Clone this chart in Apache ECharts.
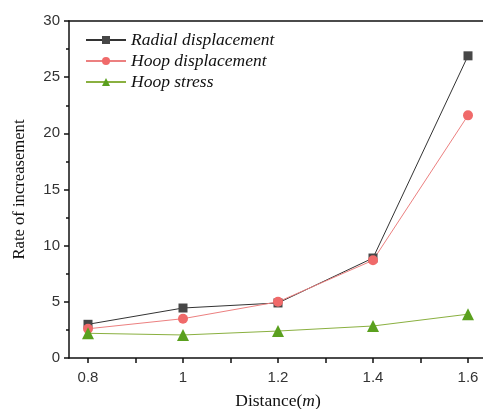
<!DOCTYPE html>
<html><head><meta charset="utf-8">
<script src="https://cdn.jsdelivr.net/npm/echarts@6/dist/echarts.min.js"></script>
<style>html,body{margin:0;padding:0;background:#fff}#c{width:483px;height:409px}</style>
</head><body><div id="c"></div>
<script>
var distances = [0.8, 1.0, 1.2, 1.4, 1.6];
var radialDisp = [3.0, 4.45, 4.9, 8.9, 26.9];
var hoopDisp = [2.6, 3.5, 5.0, 8.7, 21.6];
var hoopStress = [2.2, 2.05, 2.4, 2.85, 3.9];
var xTicks = [0.8, 1.0, 1.2, 1.4, 1.6];
var xMinorTicks = [0.9, 1.1, 1.3, 1.5];
var yTicks = [0, 5, 10, 15, 20, 25, 30];

function pairs(v){ return distances.map(function(d,i){ return [d, v[i]]; }); }
var chart = echarts.init(document.getElementById('c'), null, {renderer:'canvas'});
var serif = '"Liberation Serif", "Times New Roman", serif';
var sans = '"Liberation Sans", Arial, sans-serif';
chart.setOption({
  animation:false,
  backgroundColor:'#fff',
  grid:{left:69, right:-4, top:21, bottom:51, containLabel:false, outerBoundsMode:'none'},
  legend:{
    left:80, top:26, orient:'vertical', itemGap:3, itemWidth:40, itemHeight:10,
    textStyle:{fontFamily:serif, fontStyle:'italic', fontSize:17.5, color:'#111'},
    data:['Radial displacement','Hoop displacement','Hoop stress']
  },
  xAxis:[{
    type:'value', min:0.76, max:1.64, position:'bottom',
    axisLine:{show:true, lineStyle:{color:'#111', width:1.5}},
    axisTick:{show:true, inside:false, length:5, customValues:xTicks.concat(xMinorTicks), lineStyle:{color:'#111', width:1.5}},
    axisLabel:{customValues:xTicks, fontFamily:sans, fontSize:15, color:'#333', margin:12,
      formatter:function(v){ return (Math.round(v*10)/10).toString(); }},
    splitLine:{show:false},
    name:'{a|Distance(}{b|m}{a|)}', nameLocation:'middle', nameGap:34,
    nameTextStyle:{rich:{a:{fontFamily:serif, fontSize:17.5, color:'#111'}, b:{fontFamily:serif, fontSize:17.5, fontStyle:'italic', color:'#111'}}}
  },{
    type:'value', min:0.76, max:1.64, position:'top',
    axisLine:{show:true, lineStyle:{color:'#111', width:1.5}},
    axisTick:{show:false}, axisLabel:{show:false}, splitLine:{show:false}
  }],
  yAxis:{
    type:'value', min:0, max:30, interval:5,
    axisLine:{show:true, lineStyle:{color:'#111', width:1.5}},
    axisTick:{show:true, inside:false, length:5, lineStyle:{color:'#111', width:1.5}},
    minorTick:{show:true, splitNumber:2, length:3, lineStyle:{color:'#111', width:1.5}},
    axisLabel:{fontFamily:sans, fontSize:15, color:'#333', margin:9},
    splitLine:{show:false},
    name:'Rate of increasement', nameLocation:'middle', nameGap:41,
    nameTextStyle:{fontFamily:serif, fontSize:16.6, color:'#111'}
  },
  series:[
    {name:'Radial displacement', type:'line', data:pairs(radialDisp), symbol:'rect', symbolSize:9,
     itemStyle:{color:'#474747'}, lineStyle:{color:'#333', width:1}},
    {name:'Hoop displacement', type:'line', data:pairs(hoopDisp), symbol:'circle', symbolSize:10,
     itemStyle:{color:'#f06a6a'}, lineStyle:{color:'#ec8080', width:1}},
    {name:'Hoop stress', type:'line', data:pairs(hoopStress), symbol:'triangle', symbolSize:12,
     itemStyle:{color:'#5aa01e'}, lineStyle:{color:'#8ab040', width:1}}
  ]
});
</script></body></html>
